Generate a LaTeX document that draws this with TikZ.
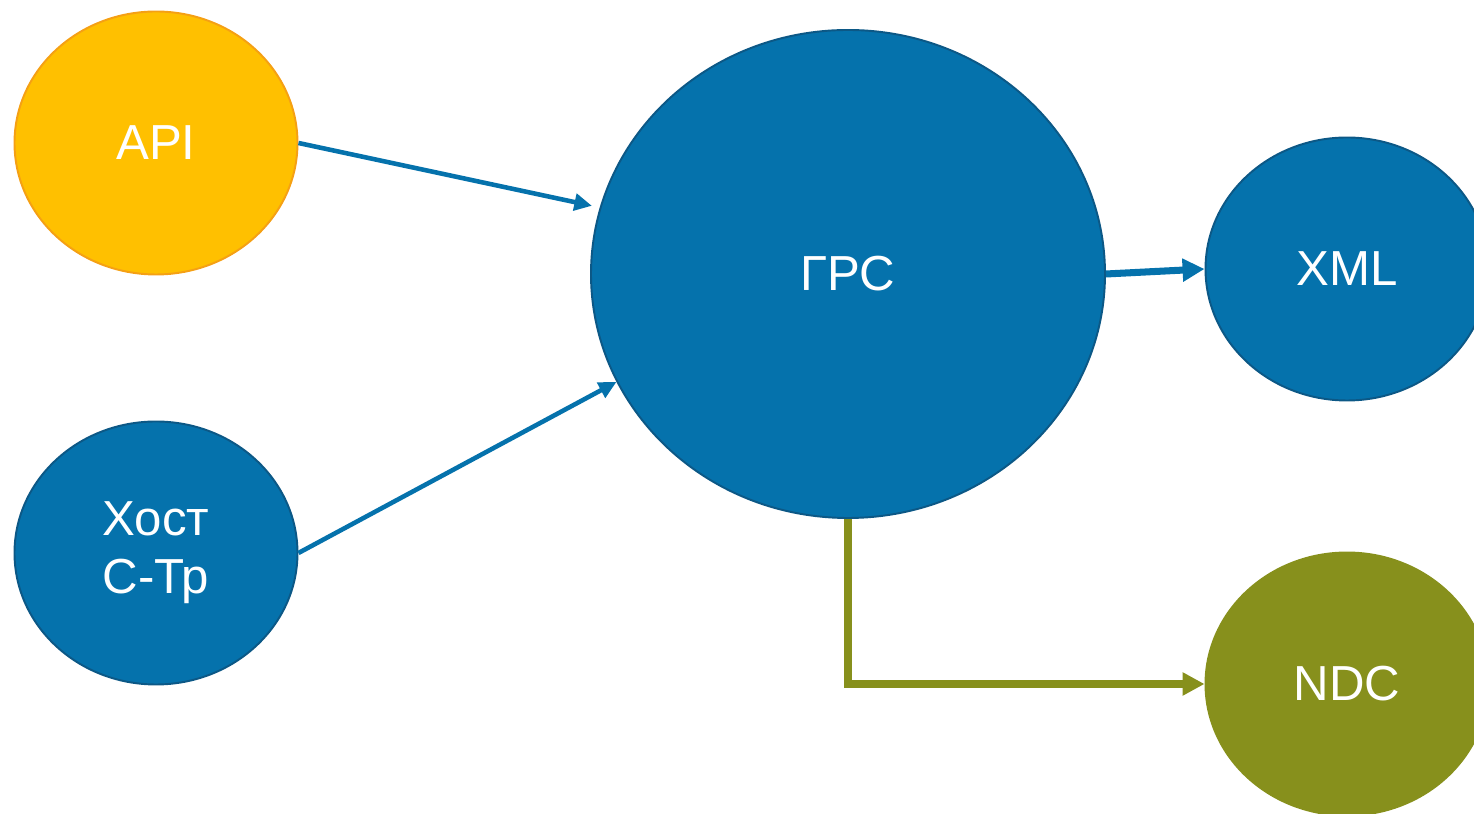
\documentclass[tikz,border=0pt]{standalone}
\usepackage{fontspec}
\setmainfont{Liberation Sans}
\usetikzlibrary{shapes.geometric,arrows.meta}

\newlength{\du}
\setlength{\du}{0.2mm}

\definecolor{grsblue}{RGB}{5,114,172}
\definecolor{grsedge}{RGB}{12,88,134}
\definecolor{apiyellow}{RGB}{255,192,0}
\definecolor{apiedge}{RGB}{245,160,20}
\definecolor{ndcolive}{RGB}{135,144,28}

\tikzset{
  bubble/.style={ellipse, draw=grsedge, fill=grsblue, line width=1.1pt, inner sep=0pt,
    text=white, font=\fontsize{28}{33}\selectfont, align=center},
  small/.style={bubble, minimum width=283\du, minimum height=263\du},
  link/.style={draw=grsblue, line width=2.6pt, -{Triangle[length=10pt,width=9.5pt]}},
  fatlink/.style={line width=4pt, -{Triangle[length=12.5pt,width=12.5pt]}}
}

\begin{document}
\begin{tikzpicture}
\useasboundingbox (0\du,0\du) rectangle (1474\du,814\du);
% sources
\node[small, fill=apiyellow, draw=apiedge] (api) at (156\du,671\du) {API};
\node[small] (host) at (156\du,261\du) {Хост\\С-Тр};
% centre
\node[bubble, minimum width=514\du, minimum height=488\du] (grs) at (848\du,540\du) {ГРС};
% outputs
\node[small] (xml) at (1347\du,545\du) {XML};
\node[small, fill=ndcolive, draw=ndcolive] (ndc) at (1347\du,130\du) {NDC};
\draw[link, shorten >=8\du] (api.east) -- (grs.165);
\draw[link] (host.east) -- (grs.205);
\draw[draw=grsblue, fatlink] (grs.east) -- (xml.west);
\draw[draw=ndcolive, fatlink] (grs.south) |- (ndc.west);
\end{tikzpicture}
\end{document}
